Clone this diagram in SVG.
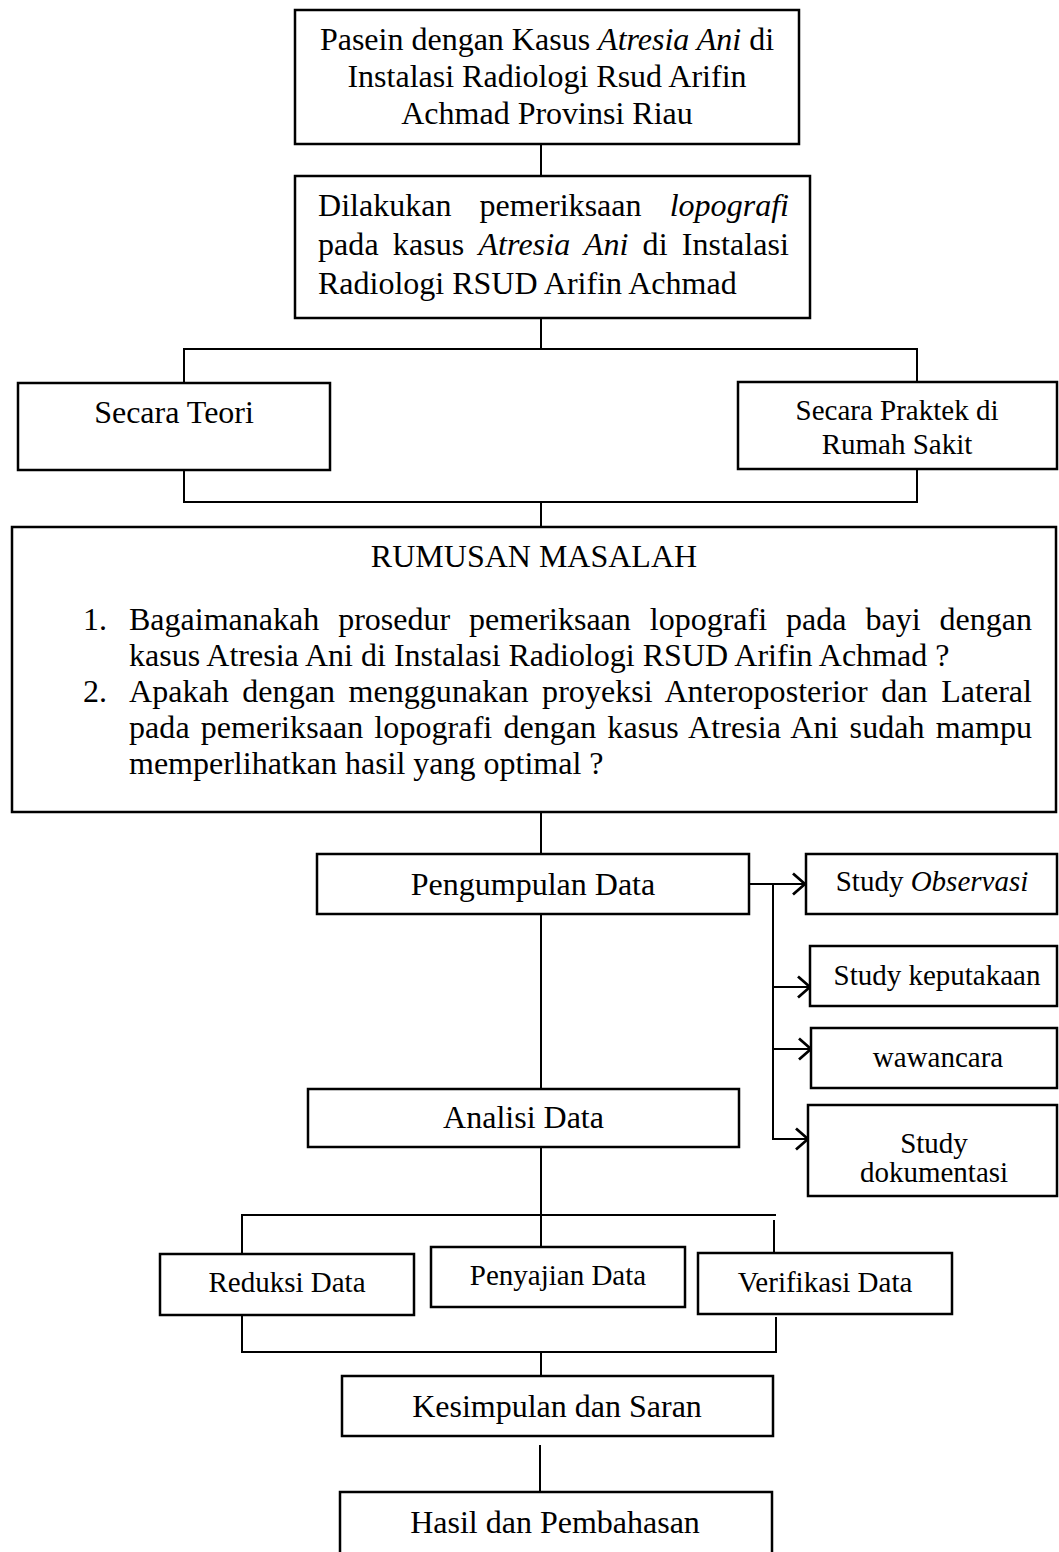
<svg xmlns="http://www.w3.org/2000/svg" width="1059" height="1552" viewBox="0 0 1059 1552">
<style>
  .box { fill: #ffffff; stroke: #000000; stroke-width: 2.5; }
  .ln { fill: none; stroke: #000000; stroke-width: 2; }
  .t { font-family: "Liberation Serif", "Times New Roman", serif; fill: #000000; }
  .L { font-size: 32px; }
  .S { font-size: 29px; }
  .c { text-anchor: middle; }
  .i { font-style: italic; }
</style>
<defs>
  <marker id="arr" viewBox="0 0 15 24" refX="13.5" refY="12" markerWidth="15" markerHeight="24" markerUnits="userSpaceOnUse" orient="auto">
    <path d="M1.5,1.5 L13.5,12 L1.5,22.5" fill="none" stroke="#000000" stroke-width="2.8"/>
  </marker>
</defs>
<rect width="1059" height="1552" fill="#ffffff"/>

<g id="connectors">
  <line class="ln" x1="541" y1="144" x2="541" y2="176"/>
  <line class="ln" x1="541" y1="318" x2="541" y2="349"/>
  <polyline class="ln" points="184,383 184,349 917,349 917,382"/>
  <polyline class="ln" points="184,470 184,502 917,502 917,469"/>
  <line class="ln" x1="541" y1="502" x2="541" y2="527"/>
  <line class="ln" x1="541" y1="812" x2="541" y2="854"/>
  <line class="ln" x1="541" y1="914" x2="541" y2="1089"/>
  <line class="ln" x1="749" y1="884" x2="805" y2="884" stroke-width="2.5" marker-end="url(#arr)"/>
  <line class="ln" x1="773" y1="884" x2="773" y2="1140" stroke-width="2.5"/>
  <line class="ln" x1="772" y1="987" x2="810" y2="987" stroke-width="2.5" marker-end="url(#arr)"/>
  <line class="ln" x1="772" y1="1049" x2="811" y2="1049" stroke-width="2.5" marker-end="url(#arr)"/>
  <line class="ln" x1="772" y1="1139" x2="808" y2="1139" stroke-width="2.5" marker-end="url(#arr)"/>
  <line class="ln" x1="541" y1="1147" x2="541" y2="1215"/>
  <line class="ln" x1="241" y1="1215" x2="776" y2="1215"/>
  <line class="ln" x1="242" y1="1215" x2="242" y2="1254"/>
  <line class="ln" x1="541" y1="1215" x2="541" y2="1247"/>
  <line class="ln" x1="774" y1="1220" x2="774" y2="1253"/>
  <polyline class="ln" points="242,1315 242,1352 776,1352 776,1317"/>
  <line class="ln" x1="541" y1="1352" x2="541" y2="1376"/>
  <line class="ln" x1="540" y1="1445" x2="540" y2="1492"/>
</g>

<g id="node-pasein">
  <rect class="box" x="295" y="10" width="504" height="134"/>
  <text class="t L c" x="547" y="50">Pasein dengan Kasus <tspan class="i">Atresia Ani</tspan> di</text>
  <text class="t L c" x="547" y="87">Instalasi Radiologi Rsud Arifin</text>
  <text class="t L c" x="547" y="124">Achmad Provinsi Riau</text>
</g>

<g id="node-dilakukan">
  <rect class="box" x="295" y="176" width="515" height="142"/>
  <text class="t L" x="318" y="216" word-spacing="20" textLength="471" lengthAdjust="spacing">Dilakukan pemeriksaan <tspan class="i">lopografi</tspan></text>
  <text class="t L" x="318" y="255" word-spacing="6" textLength="471" lengthAdjust="spacing">pada kasus <tspan class="i">Atresia Ani</tspan> di Instalasi</text>
  <text class="t L" x="318" y="294">Radiologi RSUD Arifin Achmad</text>
</g>

<g id="node-teori">
  <rect class="box" x="18" y="383" width="312" height="87"/>
  <text class="t L c" x="174" y="423">Secara Teori</text>
</g>

<g id="node-praktek">
  <rect class="box" x="738" y="382" width="319" height="87"/>
  <text class="t S c" x="897" y="420">Secara Praktek di</text>
  <text class="t S c" x="897" y="454">Rumah Sakit</text>
</g>

<g id="node-rumusan">
  <rect class="box" x="12" y="527" width="1044" height="285" stroke-width="3"/>
  <text class="t L c" x="534" y="567">RUMUSAN MASALAH</text>
  <text class="t L" x="83" y="630">1.</text>
  <text class="t L" x="129" y="630" word-spacing="11" textLength="903" lengthAdjust="spacing">Bagaimanakah prosedur pemeriksaan lopografi pada bayi dengan</text>
  <text class="t L" x="129" y="666">kasus Atresia Ani di Instalasi Radiologi RSUD Arifin Achmad ?</text>
  <text class="t L" x="83" y="702">2.</text>
  <text class="t L" x="129" y="702" word-spacing="5.5" textLength="903" lengthAdjust="spacing">Apakah dengan menggunakan proyeksi Anteroposterior dan Lateral</text>
  <text class="t L" x="129" y="738" word-spacing="3" textLength="903" lengthAdjust="spacing">pada pemeriksaan lopografi dengan kasus Atresia Ani sudah mampu</text>
  <text class="t L" x="129" y="774">memperlihatkan hasil yang optimal ?</text>
</g>

<g id="node-pengumpulan">
  <rect class="box" x="317" y="854" width="432" height="60"/>
  <text class="t L c" x="533" y="895">Pengumpulan Data</text>
</g>

<g id="node-analisi">
  <rect class="box" x="308" y="1089" width="431" height="58"/>
  <text class="t L c" x="523.5" y="1128">Analisi Data</text>
</g>

<g id="node-observasi">
  <rect class="box" x="806" y="854" width="251" height="60"/>
  <text class="t S c" x="932" y="891">Study <tspan class="i">Observasi</tspan></text>
</g>

<g id="node-keputakaan">
  <rect class="box" x="810" y="946" width="247" height="60"/>
  <text class="t S c" x="937" y="985">Study keputakaan</text>
</g>

<g id="node-wawancara">
  <rect class="box" x="811" y="1028" width="246" height="60"/>
  <text class="t S c" x="938" y="1067">wawancara</text>
</g>

<g id="node-dokumentasi">
  <rect class="box" x="808" y="1105" width="249" height="91"/>
  <text class="t S c" x="934" y="1153">Study</text>
  <text class="t S c" x="934" y="1182">dokumentasi</text>
</g>

<g id="node-reduksi">
  <rect class="box" x="160" y="1254" width="254" height="61"/>
  <text class="t S c" x="287" y="1292">Reduksi Data</text>
</g>

<g id="node-penyajian">
  <rect class="box" x="431" y="1247" width="254" height="60"/>
  <text class="t S c" x="558" y="1285">Penyajian Data</text>
</g>

<g id="node-verifikasi">
  <rect class="box" x="698" y="1253" width="254" height="61"/>
  <text class="t S c" x="825" y="1292">Verifikasi Data</text>
</g>

<g id="node-kesimpulan">
  <rect class="box" x="342" y="1376" width="431" height="60"/>
  <text class="t L c" x="557" y="1417">Kesimpulan dan Saran</text>
</g>

<g id="node-hasil">
  <rect class="box" x="340" y="1492" width="432" height="75"/>
  <text class="t L c" x="555" y="1533">Hasil dan Pembahasan</text>
</g>
</svg>
